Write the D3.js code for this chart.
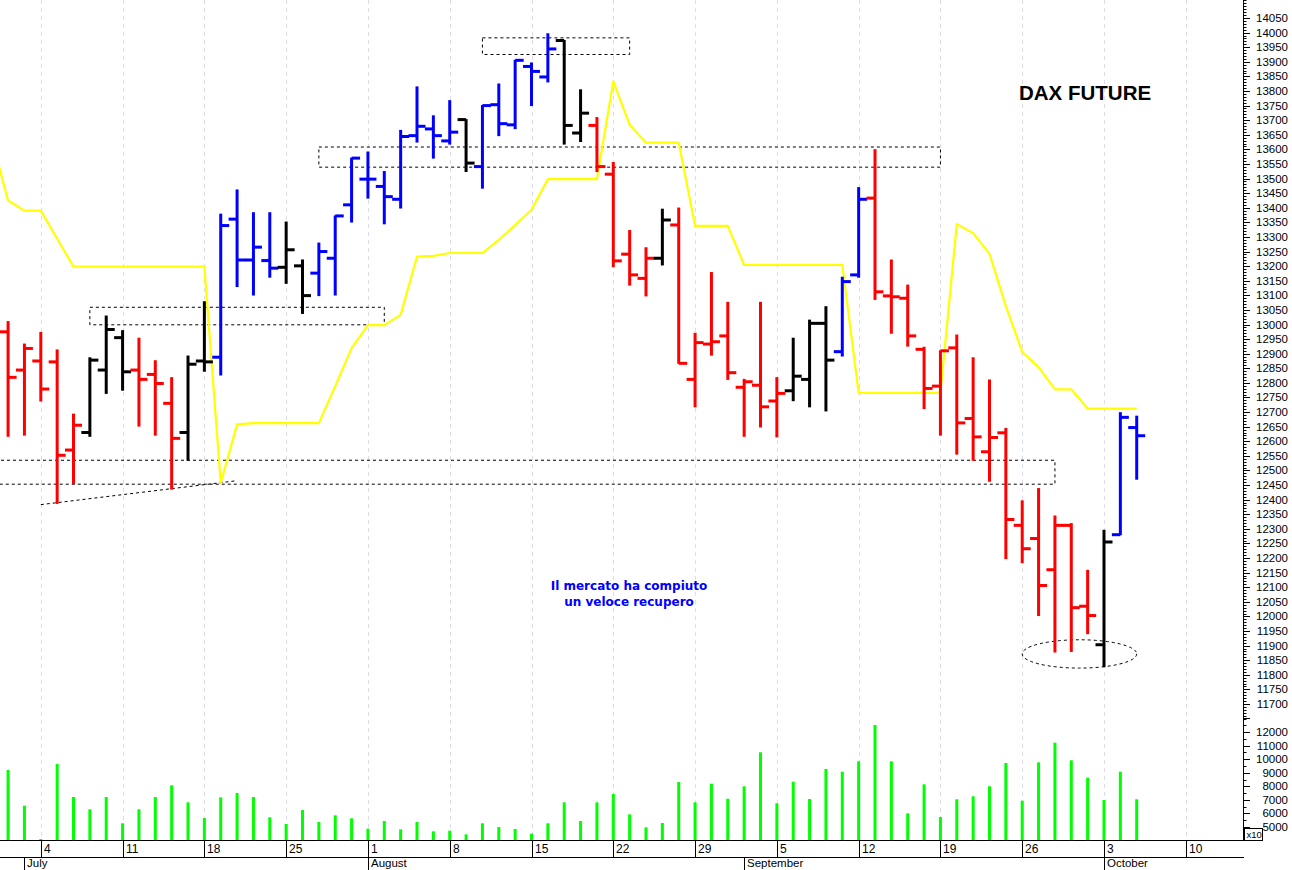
<!DOCTYPE html>
<html>
<head>
<meta charset="utf-8">
<script src="https://cdn.jsdelivr.net/npm/d3@7"></script>
<style>
html,body{margin:0;padding:0;background:#fff;}
svg{display:block;font-family:"Liberation Sans",Arial,sans-serif;}
</style>
</head>
<body>
<svg id="chart" width="1292" height="870"></svg>
<script>
// ---------- DATA ----------
const dates = ["2022-06-29","2022-06-30","2022-07-01",
"2022-07-04","2022-07-05","2022-07-06","2022-07-07","2022-07-08",
"2022-07-11","2022-07-12","2022-07-13","2022-07-14","2022-07-15",
"2022-07-18","2022-07-19","2022-07-20","2022-07-21","2022-07-22",
"2022-07-25","2022-07-26","2022-07-27","2022-07-28","2022-07-29",
"2022-08-01","2022-08-02","2022-08-03","2022-08-04","2022-08-05",
"2022-08-08","2022-08-09","2022-08-10","2022-08-11","2022-08-12",
"2022-08-15","2022-08-16","2022-08-17","2022-08-18","2022-08-19",
"2022-08-22","2022-08-23","2022-08-24","2022-08-25","2022-08-26",
"2022-08-29","2022-08-30","2022-08-31","2022-09-01","2022-09-02",
"2022-09-05","2022-09-06","2022-09-07","2022-09-08","2022-09-09",
"2022-09-12","2022-09-13","2022-09-14","2022-09-15","2022-09-16",
"2022-09-19","2022-09-20","2022-09-21","2022-09-22","2022-09-23",
"2022-09-26","2022-09-27","2022-09-28","2022-09-29","2022-09-30",
"2022-10-03","2022-10-04","2022-10-05"];

const open = [null,12975,12844,12875,12872,12570,12630,12844,12955,12844,12829,12730,12630,12875,12888,13361,13221,13219,13196,13201,13176,13227,13410,13498,13473,13429,13647,13670,13629,13702,13541,13753,13684,13884,13848,13973,13656,13682,13515,13241,13158,13227,13341,12812,12933,12961,12785,12792,12738,12773,12812,13004,12907,13170,13433,13098,13090,12915,12789,12920,12678,12564,12629,12312,12267,12160,12312,12035,11903,12280,12647];
const high = [null,13010,12933,12973,12913,12693,12886,13029,12979,12953,12876,12818,12892,13078,13378,13461,13383,13383,13351,13221,13279,13372,13570,13591,13524,13665,13814,13715,13767,13702,13750,13824,13905,13896,13996,13973,13804,13709,13555,13322,13263,13395,13399,12970,13178,13076,12812,13076,12818,12953,13015,13061,13162,13469,13599,13221,13135,12922,12910,12964,12886,12810,12644,12396,12438,12344,12318,12158,12295,12698,12686];
const low = [null,12617,12621,12738,12387,12455,12617,12764,12775,12652,12621,12436,12535,12840,12827,13130,13101,13162,13141,13038,13099,13101,13351,13433,13345,13399,13625,13570,13618,13524,13467,13647,13671,13750,13831,13618,13627,13524,13198,13135,13098,13204,12867,12718,12895,12812,12617,12649,12615,12739,12718,12704,12892,13162,13086,12970,12926,12712,12621,12556,12535,12463,12198,12184,12003,11878,11880,11941,11828,12280,12470];
const close = [null,12819,12918,12779,12552,12655,12878,12983,12838,12812,12798,12610,12864,12872,13339,13221,13265,13193,13256,13099,13250,13372,13570,13498,13438,13644,13679,13647,13659,13553,13750,13688,13905,13867,13944,13682,13724,13541,13218,13170,13227,13358,12867,12938,12941,12835,12804,12718,12764,12823,13004,12878,13147,13429,13112,13095,12961,12781,12910,12663,12615,12613,12332,12232,12106,12312,12030,12003,12255,12682,12619];
const signal = [null,"down","down","down","down","down","flat","flat","flat","down","down","down","flat","flat","up","up","up","up","flat","flat","up","up","up","up","up","up","up","up","up","flat","up","up","up","up","up","flat","flat","down","down","down","down","flat","down","down","down","down","down","down","down","flat","flat","flat","up","up","down","down","down","down","down","down","down","down","down","down","down","down","down","down","flat","up","up"];
const volume = [null,9200,6570,4115,9642,7211,6304,7211,5273,6304,7211,8073,6820,5663,7188,7505,7211,5715,5221,6253,5368,5860,5639,4877,5442,4828,5368,4681,4730,4459,5273,5000,4853,4509,5273,6820,5442,6820,7432,5933,4975,5295,8316,6820,8193,7085,7999,10504,6746,8339,7063,9274,9075,9841,12516,9841,6009,8146,5737,7041,7262,7999,9716,6938,9767,11212,9915,8633,6990,9075,7041];
const stopLine = [13634,13425,13390,13390,13294,13198,13198,13198,13198,13198,13198,13198,13198,13198,12457,12658,12662,12662,12662,12662,12662,12789,12919,12998,12998,13033,13233,13235,13245,13245,13245,13290,13341,13393,13498,13498,13498,13498,13833,13684,13623,13623,13623,13338,13338,13338,13204,13204,13204,13204,13204,13204,13204,12766,12766,12766,12766,12766,12766,13344,13313,13242,13063,12906,12854,12778,12778,12712,12712,12712,12712];

const weekTicks = ["2022-07-04","2022-07-11","2022-07-18","2022-07-25","2022-08-01","2022-08-08","2022-08-15","2022-08-22","2022-08-29","2022-09-05","2022-09-12","2022-09-19","2022-09-26","2022-10-03","2022-10-10"];
const weekLabels = ["4","11","18","25","1","8","15","22","29","5","12","19","26","3","10"];
const monthTicks = ["2022-07-01","2022-08-01","2022-09-01","2022-10-03"];
const monthLabels = ["July","August","September","October"];

const priceTickMin = 11700, priceTickMax = 14050, priceTickStep = 50;
const volumeTicks = [5000,6000,7000,8000,9000,10000,11000,12000];

const zones = [
  {from:"2022-08-10", to:"2022-08-23", top:13982, bottom:13925},
  {from:"2022-07-27", to:"2022-09-19", top:13608, bottom:13539},
  {from:"2022-07-07", to:"2022-08-02", top:13059, bottom:12999},
  {from:"2022-06-27", to:"2022-09-28", top:12535, bottom:12453}
];
const trendLine = [{date:"2022-07-04", price:12383},{date:"2022-07-20", price:12465}];
const ellipseZone = {from:"2022-09-26", to:"2022-10-05", top:11920, bottom:11823};

const title = "DAX FUTURE";
const note = ["Il mercato ha compiuto","un veloce recupero"];

// ---------- SCALES ----------
const parse = d3.utcParse("%Y-%m-%d");
const base = Date.UTC(2022,6,4);
function bizIndex(s){
  const d = parse(s);
  const days = Math.round((d - base)/864e5);
  const w = Math.floor(days/7);
  return w*5 + Math.min(days - w*7, 5);
}
const x = d3.scaleLinear().domain([0,65]).range([40.8,1104]);
const X = s => x(bizIndex(s));
const y = d3.scaleLinear().domain([11700,14050]).range([704,18]);
const yv = d3.scaleLinear().domain([5000,12000]).range([827,732]);

const axisX = 1243, plotBottom = 840, axisRow2 = 857;
const colors = {down:"#ff0000", flat:"#000000", up:"#0000ff"};

const svg = d3.select("#chart");
svg.append("rect").attr("width",1292).attr("height",870).attr("fill","#fff");

svg.append("defs").append("clipPath").attr("id","plot")
  .append("rect").attr("x",0).attr("y",0).attr("width",axisX).attr("height",plotBottom);

const g = svg.append("g").attr("clip-path","url(#plot)");

// grid
g.selectAll("line.grid").data(weekTicks).join("line")
  .attr("x1",d=>Math.round(X(d))+0.5).attr("x2",d=>Math.round(X(d))+0.5).attr("y1",0).attr("y2",plotBottom)
  .attr("stroke","#dcdcee").attr("stroke-width",1).attr("stroke-dasharray","4,4");

// zones
g.selectAll("rect.zone").data(zones).join("rect")
  .attr("x",d=>X(d.from)).attr("width",d=>X(d.to)-X(d.from))
  .attr("y",d=>y(d.top)).attr("height",d=>y(d.bottom)-y(d.top))
  .attr("fill","none").attr("stroke","#000").attr("stroke-width",1).attr("stroke-dasharray","3,3");

// trend line
g.append("line")
  .attr("x1",X(trendLine[0].date)).attr("y1",y(trendLine[0].price))
  .attr("x2",X(trendLine[1].date)).attr("y2",y(trendLine[1].price))
  .attr("stroke","#000").attr("stroke-width",1).attr("stroke-dasharray","3,3");

// ellipse
{
  const x1 = X(ellipseZone.from), x2 = X(ellipseZone.to);
  const y1 = y(ellipseZone.top), y2 = y(ellipseZone.bottom);
  g.append("ellipse").attr("cx",(x1+x2)/2).attr("cy",(y1+y2)/2)
    .attr("rx",(x2-x1)/2).attr("ry",(y2-y1)/2)
    .attr("fill","none").attr("stroke","#000").attr("stroke-width",1).attr("stroke-dasharray","3,3");
}

// stop line
const stopPts = dates.map((d,i)=>({d, v:stopLine[i]}));
g.append("path").datum(stopPts)
  .attr("d", d3.line().x(p=>X(p.d)).y(p=>y(p.v)))
  .attr("fill","none").attr("stroke","#ffff00").attr("stroke-width",2.2).attr("stroke-linejoin","round");

// OHLC bars
const bars = dates.map((d,i)=>({d,o:open[i],h:high[i],l:low[i],c:close[i],s:signal[i],v:volume[i]}))
  .filter(b=>b.o!=null);
const tick = 7;
const bg = g.append("g").attr("stroke-width",3).attr("stroke-linecap","butt");
bars.forEach(b=>{
  const cx = X(b.d), col = colors[b.s];
  bg.append("line").attr("x1",cx).attr("x2",cx).attr("y1",y(b.h)-0.5).attr("y2",y(b.l)+0.5).attr("stroke",col);
  bg.append("line").attr("x1",cx-tick-1.5).attr("x2",cx).attr("y1",y(b.o)).attr("y2",y(b.o)).attr("stroke",col);
  bg.append("line").attr("x1",cx).attr("x2",cx+tick+1.5).attr("y1",y(b.c)).attr("y2",y(b.c)).attr("stroke",col);
});

// volume
const vBase = plotBottom;
g.selectAll("rect.vol").data(bars).join("rect")
  .attr("x",b=>X(b.d)-1.5).attr("width",3)
  .attr("y",b=>yv(b.v)).attr("height",b=>Math.max(0.5,vBase-yv(b.v)))
  .attr("fill","#00ff00");

// ---------- RIGHT AXIS ----------
const ax = svg.append("g").attr("stroke","#000");
ax.append("line").attr("x1",axisX+0.5).attr("x2",axisX+0.5).attr("y1",0).attr("y2",plotBottom).attr("stroke-width",1);
const minor = d3.range(11650, 14111, 10);
ax.selectAll("line.mn").data(minor).join("line")
  .attr("x1",axisX).attr("x2",axisX+3.5).attr("y1",d=>Math.round(y(d))+0.5).attr("y2",d=>Math.round(y(d))+0.5).attr("stroke-width",1);
const major = d3.range(priceTickMin, priceTickMax+1, priceTickStep);
ax.selectAll("line.mj").data(major).join("line")
  .attr("x1",axisX).attr("x2",axisX+7).attr("y1",d=>Math.round(y(d))+0.5).attr("y2",d=>Math.round(y(d))+0.5).attr("stroke-width",1);
svg.append("g").selectAll("text").data(major).join("text")
  .attr("x",1288).attr("y",d=>y(d)+4).attr("text-anchor","end")
  .attr("font-size","11.5px").attr("fill","#000").text(d=>d);

// volume axis
const vMinor = d3.range(4500, 13001, 500);
ax.selectAll("line.vmn").data(vMinor).join("line")
  .attr("x1",axisX).attr("x2",axisX+3.5).attr("y1",d=>Math.round(yv(d))+0.5).attr("y2",d=>Math.round(yv(d))+0.5).attr("stroke-width",1);
ax.selectAll("line.vmj").data(volumeTicks.concat([13000])).join("line")
  .attr("x1",axisX).attr("x2",axisX+7).attr("y1",d=>Math.round(yv(d))+0.5).attr("y2",d=>Math.round(yv(d))+0.5).attr("stroke-width",1);
svg.append("g").selectAll("text").data(volumeTicks).join("text")
  .attr("x",1288).attr("y",d=>yv(d)+4).attr("text-anchor","end")
  .attr("font-size","11.5px").attr("fill","#000").text(d=>d);
svg.append("rect").attr("x",1244.5).attr("y",828.5).attr("width",18).attr("height",12)
  .attr("fill","#fff").attr("stroke","#000").attr("stroke-width",1);
svg.append("text").attr("x",1246.5).attr("y",838).attr("font-size","9.5px").attr("fill","#000").text("x10");

// ---------- BOTTOM AXIS ----------
const bx = svg.append("g").attr("stroke","#000").attr("stroke-width",1);
bx.append("line").attr("x1",0).attr("x2",axisX+1).attr("y1",plotBottom+0.5).attr("y2",plotBottom+0.5);
bx.append("line").attr("x1",0).attr("x2",axisX+1).attr("y1",axisRow2+0.5).attr("y2",axisRow2+0.5);
bx.selectAll("line.wk").data(weekTicks).join("line")
  .attr("x1",d=>Math.round(X(d))+0.5).attr("x2",d=>Math.round(X(d))+0.5)
  .attr("y1",plotBottom).attr("y2",axisRow2);
bx.selectAll("line.mo").data(monthTicks).join("line")
  .attr("x1",d=>Math.round(X(d))+0.5).attr("x2",d=>Math.round(X(d))+0.5)
  .attr("y1",axisRow2).attr("y2",870);
svg.append("g").selectAll("text").data(weekTicks).join("text")
  .attr("x",d=>Math.round(X(d))+3).attr("y",853).attr("font-size","12px").attr("fill","#000")
  .text((d,i)=>weekLabels[i]);
svg.append("g").selectAll("text").data(monthTicks).join("text")
  .attr("x",d=>Math.round(X(d))+3).attr("y",867).attr("font-size","11.5px").attr("fill","#000")
  .text((d,i)=>monthLabels[i]);

// ---------- TEXT ----------
svg.append("text").attr("x",1019).attr("y",100).attr("font-size","20.5px").attr("font-weight","bold")
  .attr("font-family","'Liberation Sans',Arial,sans-serif").attr("fill","#000").text(title);
svg.append("g").selectAll("text").data(note).join("text")
  .attr("x",629).attr("y",(d,i)=>590+i*16).attr("text-anchor","middle")
  .attr("font-family","'DejaVu Sans',Verdana,sans-serif").attr("font-weight","bold")
  .attr("font-size","12px").attr("fill","#0000ff").text(d=>d);
</script>
</body>
</html>
